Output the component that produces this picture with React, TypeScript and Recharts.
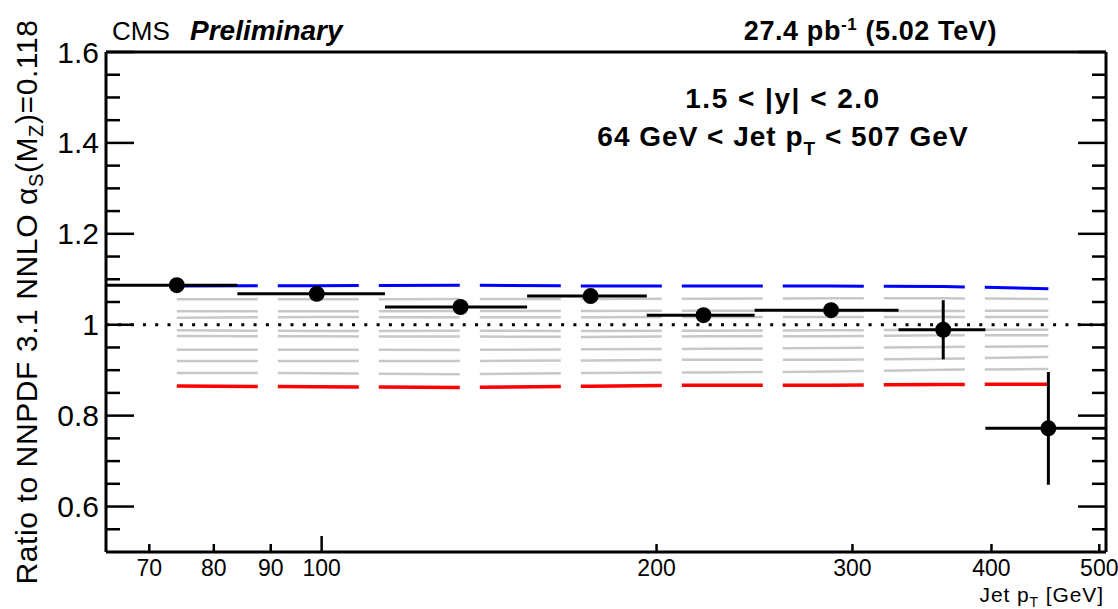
import React from 'react';
import {
  ComposedChart,
  Line,
  Scatter,
  ErrorBar,
  XAxis,
  YAxis,
  ReferenceLine,
} from 'recharts';

// jet pT bins (GeV) and where the points sit
const binCenters = [74.1, 99, 133.3, 174.5, 220.4, 287, 362, 450];
const binLow = [64, 84, 114, 153, 196, 245, 330, 395];
const binHigh = [84, 114, 153, 196, 245, 330, 395, 507];

// data / NNPDF3.1 (alphaS = 0.118)
const dataRatio = [1.087, 1.068, 1.039, 1.063, 1.021, 1.032, 0.989, 0.772];
const dataErr = [0.004, 0.004, 0.005, 0.006, 0.008, 0.012, 0.065, 0.124];

// theory ratios for the alphaS variations, top (blue) to bottom (red)
const asHigh = [1.085, 1.086, 1.0868, 1.0853, 1.0853, 1.0853, 1.084, 1.0794];
const asGrey1 = [1.056, 1.0558, 1.0566, 1.0566, 1.0573, 1.0581, 1.0581, 1.0566];
const asGrey2 = [1.0295, 1.0295, 1.03, 1.0302, 1.031, 1.0302, 1.0302, 1.031];
const asGrey3 = [1.0156, 1.017, 1.0163, 1.0163, 1.017, 1.017, 1.017, 1.017];
const asGrey4 = [0.9877, 0.9861, 0.9869, 0.9861, 0.9869, 0.9876, 0.989, 0.989];
const asGrey5 = [0.975, 0.9745, 0.974, 0.9731, 0.9745, 0.9745, 0.9767, 0.9767];
const asGrey6 = [0.945, 0.945, 0.9445, 0.946, 0.947, 0.9487, 0.951, 0.9524];
const asGrey7 = [0.92, 0.92, 0.92, 0.9215, 0.923, 0.923, 0.925, 0.929];
const asGrey8 = [0.894, 0.8935, 0.891, 0.894, 0.895, 0.897, 0.901, 0.9024];
const asLow = [0.865, 0.8634, 0.862, 0.8649, 0.867, 0.867, 0.8686, 0.8693];

const xTicks = [70, 80, 90, 100, 200, 300, 400, 500];
const yTicks = [
  0.55, 0.6, 0.65, 0.7, 0.75, 0.8, 0.85, 0.9, 0.95, 1, 1.05, 1.1, 1.15, 1.2,
  1.25, 1.3, 1.35, 1.4, 1.45, 1.5, 1.55, 1.6,
];
const yLabels = [0.6, 0.8, 1, 1.2, 1.4, 1.6];

const greys = [asGrey1, asGrey2, asGrey3, asGrey4, asGrey5, asGrey6, asGrey7, asGrey8];

const theory = binCenters.map((pt, i) => {
  const row: Record<string, number> = { pt, blue: asHigh[i], red: asLow[i] };
  greys.forEach((g, k) => {
    row[`g${k}`] = g[i];
  });
  return row;
});

const points = binCenters.map((pt, i) => ({
  pt,
  ratio: dataRatio[i],
  ex: [pt - binLow[i], binHigh[i] - pt],
  ey: dataErr[i],
}));

const FONT = '"Liberation Sans", Arial, Helvetica, sans-serif';

const LeftTick = (props: any) => {
  const { x, y, payload } = props;
  const major = yLabels.includes(payload.value);
  return (
    <g>
      <line x1={x} x2={x + (major ? 28 : 14)} y1={y} y2={y} stroke="#000" strokeWidth={2.5} />
      {major && (
        <text x={x - 7} y={y} textAnchor="end" dominantBaseline="central" fontSize={30} fontFamily={FONT} fill="#000">
          {payload.value === 1 ? '1' : payload.value.toFixed(1)}
        </text>
      )}
    </g>
  );
};

const RightTick = (props: any) => {
  const { x, y, payload } = props;
  const major = yLabels.includes(payload.value);
  return <line x1={x} x2={x - (major ? 28 : 14)} y1={y} y2={y} stroke="#000" strokeWidth={2.5} />;
};

const BottomTick = (props: any) => {
  const { x, y, payload } = props;
  const len = payload.value === 100 ? 16 : 8;
  return (
    <g>
      <line x1={x} x2={x} y1={y} y2={y - len} stroke="#000" strokeWidth={2.5} />
      <text x={x} y={y + 24} textAnchor="middle" fontSize={23} fontFamily={FONT} fill="#000">
        {payload.value}
      </text>
    </g>
  );
};

const Dot = (props: any) => <circle cx={props.cx} cy={props.cy} r={8} fill="#000" />;

export default function App() {
  const dash = '81 20';
  return (
    <div style={{ position: 'absolute', left: 0, top: 0, width: 1118, height: 609, background: '#fff', fontFamily: FONT }}>
      <ComposedChart
        width={1118}
        height={609}
        data={theory}
        margin={{ top: 51, right: 11, bottom: 56, left: 105 }}
      >
        <XAxis
          dataKey="pt"
          type="number"
          scale="log"
          domain={[64, 507]}
          allowDataOverflow
          ticks={xTicks}
          interval={0}
          height={1}
          tickSize={0}
          tickMargin={0}
          tick={<BottomTick />}
          axisLine={{ stroke: '#000', strokeWidth: 3 }}
          tickLine={false}
        />
        <XAxis
          xAxisId="top"
          orientation="top"
          type="number"
          scale="log"
          domain={[64, 507]}
          allowDataOverflow
          height={1}
          tick={false}
          tickLine={false}
          axisLine={{ stroke: '#000', strokeWidth: 3 }}
        />
        <YAxis
          type="number"
          domain={[0.5, 1.6]}
          allowDataOverflow
          ticks={yTicks}
          width={1}
          tickSize={0}
          tickMargin={0}
          tick={<LeftTick />}
          tickLine={false}
          axisLine={{ stroke: '#000', strokeWidth: 3 }}
          interval={0}
        />
        <YAxis
          yAxisId="r"
          orientation="right"
          type="number"
          domain={[0.5, 1.6]}
          allowDataOverflow
          ticks={yTicks}
          width={1}
          tickSize={0}
          tickMargin={0}
          tick={<RightTick />}
          tickLine={false}
          axisLine={{ stroke: '#000', strokeWidth: 3 }}
          interval={0}
        />
        {greys.map((_, k) => (
          <Line
            key={k}
            dataKey={`g${k}`}
            type="linear"
            stroke="#c8c8c8"
            strokeWidth={2.5}
            strokeDasharray={dash}
            dot={false}
            isAnimationActive={false}
          />
        ))}
        <Line dataKey="blue" type="linear" stroke="#0000ff" strokeWidth={3} strokeDasharray={dash} dot={false} isAnimationActive={false} />
        <Line dataKey="red" type="linear" stroke="#ff0000" strokeWidth={3.5} strokeDasharray={dash} dot={false} isAnimationActive={false} />
        <ReferenceLine y={1} stroke="#000" strokeWidth={3} strokeDasharray="3 9.3" />
        <Scatter data={points} dataKey="ratio" shape={<Dot />} isAnimationActive={false}>
          <ErrorBar dataKey="ex" direction="x" width={0} stroke="#000" strokeWidth={3} />
          <ErrorBar dataKey="ey" direction="y" width={0} stroke="#000" strokeWidth={3} />
        </Scatter>
      </ComposedChart>
      <svg
        width={1118}
        height={609}
        style={{ position: 'absolute', left: 0, top: 0, pointerEvents: 'none' }}
        fontFamily={FONT}
      >
        <text x={112} y={40} fontSize={26}>CMS</text>
        <text x={190} y={40} fontSize={28} fontWeight="bold" fontStyle="italic">Preliminary</text>
        <text x={997} y={40} fontSize={27} fontWeight="bold" textAnchor="end" letterSpacing={0.6}>
          27.4 pb<tspan dy={-10} fontSize={17}>-1</tspan>
          <tspan dy={10}> (5.02 TeV)</tspan>
        </text>
        <text x={783} y={108} fontSize={28} fontWeight="bold" textAnchor="middle" letterSpacing={1.5}>
          1.5 &lt; |y| &lt; 2.0
        </text>
        <text x={783} y={146} fontSize={28} fontWeight="bold" textAnchor="middle" letterSpacing={1}>
          64 GeV &lt; Jet p<tspan dy={9} fontSize={19}>T</tspan>
          <tspan dy={-9}> &lt; 507 GeV</tspan>
        </text>
        <text x={1104} y={602} fontSize={21} textAnchor="end" letterSpacing={0.9}>
          Jet p<tspan dy={5} fontSize={14}>T</tspan>
          <tspan dy={-5}> [GeV]</tspan>
        </text>
        <text transform="rotate(-90)" x={-302} y={37} fontSize={30} textAnchor="middle" letterSpacing={0.6}>
          Ratio to NNPDF 3.1 NNLO α<tspan dy={6} fontSize={20}>S</tspan>
          <tspan dy={-6}>(M</tspan>
          <tspan dy={6} fontSize={20}>Z</tspan>
          <tspan dy={-6}>)=0.118</tspan>
        </text>
      </svg>
    </div>
  );
}
